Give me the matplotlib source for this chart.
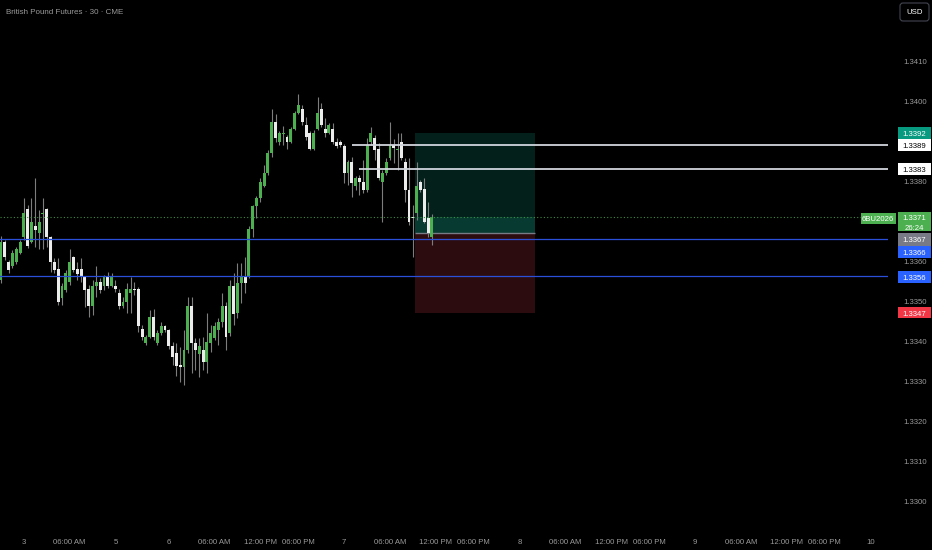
import numpy as np
import matplotlib
matplotlib.use("Agg")
import matplotlib.pyplot as plt
import matplotlib.transforms as mtransforms
from matplotlib.patches import Rectangle, FancyBboxPatch

plt.rcParams['font.family'] = ['Liberation Sans', 'DejaVu Sans']

# 30分足 OHLC (チャートから読み取り)
opens = [1.33553, 1.33648, 1.33598, 1.33588, 1.33598, 1.33620, 1.33660, 1.33730, 1.33648, 1.33688,
         1.33670, 1.33718, 1.33730, 1.33660, 1.33598, 1.33580, 1.33508, 1.33528, 1.33548, 1.33610,
         1.33580, 1.33580, 1.33560, 1.33530, 1.33488, 1.33538, 1.33548, 1.33538, 1.33560, 1.33538,
         1.33538, 1.33520, 1.33488, 1.33498, 1.33520, 1.33530, 1.33530, 1.33430, 1.33395, 1.33410,
         1.33460, 1.33395, 1.33420, 1.33438, 1.33428, 1.33388, 1.33370, 1.33340, 1.33335, 1.33378,
         1.33488, 1.33395, 1.33368, 1.33378, 1.33348, 1.33395, 1.33408, 1.33428, 1.33448, 1.33488,
         1.33420, 1.33538, 1.33470, 1.33545, 1.33560, 1.33560, 1.33680, 1.33738, 1.33758, 1.33788,
         1.33820, 1.33870, 1.33948, 1.33898, 1.33918, 1.33910, 1.33898, 1.33930, 1.33970, 1.33980,
         1.33940, 1.33920, 1.33880, 1.33930, 1.33980, 1.33930, 1.33920, 1.33930, 1.33898, 1.33898,
         1.33888, 1.33820, 1.33848, 1.33788, 1.33808, 1.33798, 1.33778, 1.33898, 1.33908, 1.33880,
         1.33798, 1.33820, 1.33858, 1.33890, 1.33878, 1.33898, 1.33848, 1.33778, 1.33710, 1.33720,
         1.33798, 1.33780, 1.33708, 1.33660]
highs = [1.33663, 1.33653, 1.33603, 1.33628, 1.33635, 1.33653, 1.33758, 1.33740, 1.33758, 1.33808,
         1.33728, 1.33758, 1.33733, 1.33663, 1.33608, 1.33608, 1.33545, 1.33578, 1.33630, 1.33613,
         1.33598, 1.33608, 1.33563, 1.33540, 1.33553, 1.33588, 1.33558, 1.33565, 1.33573, 1.33570,
         1.33553, 1.33530, 1.33510, 1.33545, 1.33560, 1.33548, 1.33535, 1.33440, 1.33415, 1.33478,
         1.33480, 1.33428, 1.33448, 1.33440, 1.33430, 1.33398, 1.33395, 1.33385, 1.33428, 1.33510,
         1.33510, 1.33408, 1.33408, 1.33410, 1.33470, 1.33440, 1.33448, 1.33458, 1.33520, 1.33498,
         1.33553, 1.33570, 1.33595, 1.33595, 1.33610, 1.33688, 1.33740, 1.33763, 1.33808, 1.33840,
         1.33878, 1.33980, 1.33968, 1.33925, 1.33938, 1.33915, 1.33935, 1.33975, 1.34018, 1.33990,
         1.33960, 1.33925, 1.33928, 1.34010, 1.33995, 1.33958, 1.33945, 1.33945, 1.33908, 1.33903,
         1.33893, 1.33853, 1.33860, 1.33813, 1.33815, 1.33853, 1.33908, 1.33935, 1.33915, 1.33895,
         1.33828, 1.33858, 1.33948, 1.33905, 1.33920, 1.33920, 1.33858, 1.33858, 1.33740, 1.33848,
         1.33803, 1.33808, 1.33748, 1.33718]
lows = [1.33545, 1.33603, 1.33570, 1.33583, 1.33593, 1.33618, 1.33653, 1.33633, 1.33645, 1.33635,
        1.33630, 1.33630, 1.33635, 1.33573, 1.33570, 1.33490, 1.33490, 1.33523, 1.33540, 1.33573,
        1.33553, 1.33548, 1.33485, 1.33460, 1.33465, 1.33510, 1.33520, 1.33528, 1.33533, 1.33535,
        1.33523, 1.33480, 1.33483, 1.33470, 1.33470, 1.33515, 1.33423, 1.33403, 1.33390, 1.33408,
        1.33403, 1.33390, 1.33415, 1.33423, 1.33380, 1.33340, 1.33313, 1.33298, 1.33290, 1.33370,
        1.33320, 1.33328, 1.33310, 1.33328, 1.33320, 1.33373, 1.33403, 1.33390, 1.33435, 1.33378,
        1.33413, 1.33440, 1.33458, 1.33495, 1.33520, 1.33558, 1.33660, 1.33708, 1.33748, 1.33785,
        1.33815, 1.33860, 1.33898, 1.33890, 1.33890, 1.33880, 1.33895, 1.33928, 1.33968, 1.33940,
        1.33903, 1.33878, 1.33878, 1.33928, 1.33935, 1.33910, 1.33918, 1.33893, 1.33883, 1.33885,
        1.33795, 1.33790, 1.33760, 1.33778, 1.33765, 1.33770, 1.33773, 1.33890, 1.33853, 1.33803,
        1.33698, 1.33815, 1.33853, 1.33845, 1.33828, 1.33853, 1.33748, 1.33690, 1.33610, 1.33703,
        1.33773, 1.33695, 1.33660, 1.33640]
closes = [1.33648, 1.33610, 1.33578, 1.33620, 1.33630, 1.33648, 1.33720, 1.33638, 1.33698, 1.33678,
          1.33698, 1.33720, 1.33660, 1.33598, 1.33578, 1.33498, 1.33538, 1.33570, 1.33598, 1.33578,
          1.33568, 1.33560, 1.33528, 1.33488, 1.33538, 1.33548, 1.33528, 1.33560, 1.33538, 1.33560,
          1.33530, 1.33488, 1.33498, 1.33530, 1.33530, 1.33528, 1.33438, 1.33410, 1.33410, 1.33460,
          1.33410, 1.33420, 1.33438, 1.33428, 1.33388, 1.33360, 1.33338, 1.33335, 1.33378, 1.33488,
          1.33395, 1.33378, 1.33388, 1.33348, 1.33398, 1.33420, 1.33438, 1.33448, 1.33488, 1.33410,
          1.33538, 1.33468, 1.33545, 1.33560, 1.33545, 1.33680, 1.33738, 1.33758, 1.33798, 1.33820,
          1.33870, 1.33948, 1.33908, 1.33920, 1.33920, 1.33898, 1.33930, 1.33970, 1.33990, 1.33948,
          1.33910, 1.33880, 1.33920, 1.33970, 1.33940, 1.33920, 1.33940, 1.33898, 1.33888, 1.33890,
          1.33820, 1.33848, 1.33795, 1.33808, 1.33798, 1.33778, 1.33890, 1.33920, 1.33878, 1.33808,
          1.33820, 1.33848, 1.33890, 1.33883, 1.33880, 1.33858, 1.33778, 1.33698, 1.33708, 1.33788,
          1.33778, 1.33698, 1.33670, 1.33710]

# 時間軸ラベル (バー番号)
tick_idx = [6, 18, 30, 44, 56, 68, 78, 90, 102, 114, 124, 136, 148, 160, 170, 182, 194, 206, 216, 228]
tick_lbl = ["3", "06:00 AM", "5", "6", "06:00 AM", "12:00 PM", "06:00 PM", "7", "06:00 AM", "12:00 PM",
            "06:00 PM", "8", "06:00 AM", "12:00 PM", "06:00 PM", "9", "06:00 AM", "12:00 PM", "06:00 PM", "10"]

price_ticks = [1.3300, 1.3310, 1.3320, 1.3330, 1.3340, 1.3350, 1.3360, 1.3380, 1.3400, 1.3410]

# ポジションツール
entry = 1.3367
target = 1.3392
stop = 1.3347
last_price = 1.3371
pos_start, pos_end = 108.6, 140.0

# 水平ライン
white_levels = [1.3389, 1.3383]
white_start = [92, 94]
blue_levels = [1.33656, 1.33562]

BG = "#000000"
GREEN = "#4caf50"
WHITE_C = "#ececec"
WICK = "#7d7d7d"
TXT = "#9a9a9a"
FS = 5.6

W, H = 932, 550
fig = plt.figure(figsize=(W / 100, H / 100), dpi=100, facecolor=BG)
ax = fig.add_axes([0, 21 / H, 888 / W, 529 / H])
ax.set_facecolor(BG)
for s in ax.spines.values():
    s.set_visible(False)

x_max = 232.6
ax.set_xlim(-0.26, x_max)
ax.set_ylim(1.342525 - 529 / 40000, 1.342525)

PXP = 1 / 40000  # 1ピクセルあたりの価格
DY = 1.2 * PXP   # 文字の縦位置補正

# ポジションボックス
ax.add_patch(Rectangle((pos_start, entry), pos_end - pos_start, target - entry,
                       facecolor="#03201b", edgecolor="none", zorder=1))
ax.add_patch(Rectangle((pos_start, entry), pos_end - pos_start, last_price - entry,
                       facecolor="#073a31", edgecolor="none", zorder=1))
ax.add_patch(Rectangle((pos_start, stop), pos_end - pos_start, entry - stop,
                       facecolor="#2d0c10", edgecolor="none", zorder=1))
ax.hlines(entry, pos_start, pos_end, color="#787b86", lw=1, zorder=1.5)

# ローソク足
idx = np.arange(len(opens))
o = np.array(opens)
c = np.array(closes)
up = c >= o
ax.vlines(idx, lows, highs, color=WICK, lw=0.8, zorder=2)
body_bot = np.minimum(o, c)
body_h = np.maximum(np.abs(c - o), 0.00003)
ax.bar(idx[up], body_h[up], bottom=body_bot[up], width=0.76, color=GREEN, lw=0, zorder=3)
ax.bar(idx[~up], body_h[~up], bottom=body_bot[~up], width=0.76, color=WHITE_C, lw=0, zorder=3)

# ライン
for lvl, st in zip(white_levels, white_start):
    ax.hlines(lvl, st, x_max, color="#d1d4dc", lw=1.3, zorder=4)
for lvl in blue_levels:
    ax.axhline(lvl, color="#2a4fd8", lw=0.9, zorder=4)
ax.axhline(last_price, color="#3d8c40", lw=0.8, ls=(0, (1, 2)), zorder=4)

ax.set_yticks([])
ax.set_xticks(tick_idx)
ax.set_xticklabels(tick_lbl)
ax.tick_params(axis="x", length=0, pad=7, colors=TXT, labelsize=FS)

# 価格軸
trans = mtransforms.blended_transform_factory(fig.transFigure, ax.transData)
for p in price_ticks:
    ax.text(915 / W, p - DY, f"{p:.4f}", transform=trans, color=TXT, fontsize=FS,
            ha="center", va="center", clip_on=False)


def tag(yc, text, bg, fg, h=12, x0=897.5, x1=931):
    ax.add_patch(Rectangle((x0 / W, yc - h * PXP / 2), (x1 - x0) / W, h * PXP, transform=trans,
                           facecolor=bg, edgecolor="none", clip_on=False, zorder=10))
    if text:
        ax.text((x0 + x1) / 2 / W, yc - DY, text, transform=trans, color=fg, fontsize=FS,
                ha="center", va="center", clip_on=False, zorder=11)


tag(1.3392, "1.3392", "#089981", "white")
tag(1.3389, "1.3389", "white", "black")
tag(1.3383, "1.3383", "white", "black")
tag(last_price - 5 * PXP, None, GREEN, "white", h=19)
ax.text(914 / W, last_price - DY, "1.3371", transform=trans, color="white", fontsize=FS,
        ha="center", va="center", clip_on=False, zorder=11)
ax.text(914 / W, last_price - 10 * PXP - DY, "26:24", transform=trans, color="white", fontsize=FS,
        ha="center", va="center", clip_on=False, zorder=11)
tag(entry - 6.5 * PXP, "1.3367", "#787b86", "white", h=13.5)
tag(1.336225, "1.3366", "#2962ff", "white")
tag(1.3356, "1.3356", "#2962ff", "white", h=11)
tag(1.3347, "1.3347", "#f23645", "white", h=11)
tag(last_price - 1.5 * PXP, "6BU2026", GREEN, "white", h=11, x0=860.5, x1=895.5)

# USD ボタン
ax.add_artist(FancyBboxPatch((900, H - 21), 29, 18, boxstyle="round,pad=0,rounding_size=3",
                             transform=mtransforms.IdentityTransform(), facecolor=BG,
                             edgecolor="#434651", lw=0.8, clip_on=False, zorder=12))
fig.text(914.5 / W, 1 - 12.5 / H, "USD", color="white", fontsize=FS, ha="center", va="center")

fig.text(6 / W, 1 - 12.5 / H, "British Pound Futures · 30 · CME", color=TXT, fontsize=5.8,
         ha="left", va="center")

fig.savefig("out.png", dpi=100, facecolor=BG)
